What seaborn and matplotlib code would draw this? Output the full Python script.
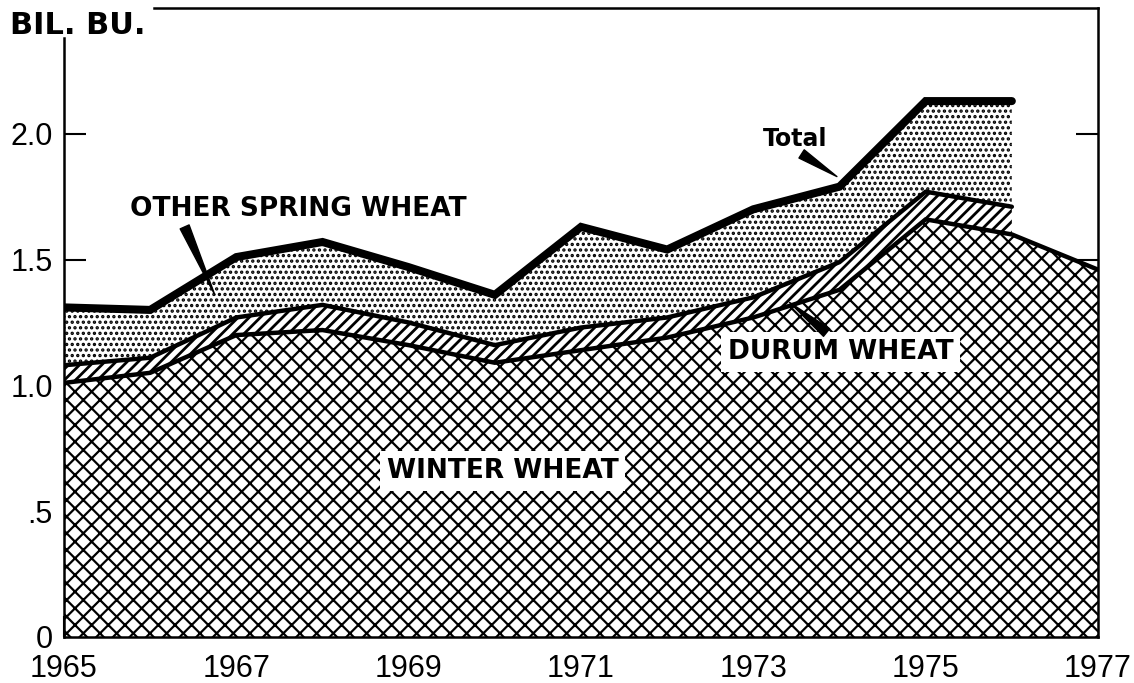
import numpy as np
import pandas as pd
import matplotlib
matplotlib.use("Agg")
import matplotlib.pyplot as plt
from matplotlib.ticker import MultipleLocator, FixedLocator
import seaborn as sns

# ---- data (billion bushels) ----
years = [1965, 1966, 1967, 1968, 1969, 1970, 1971, 1972, 1973, 1974, 1975, 1976, 1977]
winter_wheat = [1.01, 1.05, 1.20, 1.22, 1.16, 1.09, 1.14, 1.19, 1.27, 1.38, 1.66, 1.60, 1.46]
durum_wheat = [0.07, 0.06, 0.07, 0.10, 0.09, 0.07, 0.09, 0.08, 0.08, 0.11, 0.11, 0.11]
other_spring_wheat = [0.23, 0.19, 0.24, 0.25, 0.22, 0.20, 0.40, 0.27, 0.35, 0.30, 0.36, 0.42]

y_ticks = [0, 0.5, 1.0, 1.5, 2.0]
y_tick_labels = ["0", ".5", "1.0", "1.5", "2.0"]
x_ticks = [1965, 1967, 1969, 1971, 1973, 1975, 1977]
x_tick_labels = ["1965", "1967", "1969", "1971", "1973", "1975", "1977"]

sns.set_theme(style="white")
plt.rcParams["font.family"] = ["DejaVu Sans"]
plt.rcParams["text.color"] = "black"
plt.rcParams["hatch.color"] = "black"

yrs = np.array(years, dtype=float)
win = np.array(winter_wheat)
n = len(durum_wheat)
dur_top = win[:n] + np.array(durum_wheat)
total = dur_top + np.array(other_spring_wheat)

fig = plt.figure(figsize=(11.34, 6.83), dpi=100)
ax = fig.add_axes([64 / 1134, 46 / 683, (1098 - 64) / 1134, (637 - 8) / 683])


def hatched(x, lo, hi, pattern, hlw):
    with plt.rc_context({"hatch.linewidth": hlw}):
        coll = ax.fill_between(x, lo, hi, facecolor="white", edgecolor="black",
                               hatch=pattern, linewidth=0, zorder=1)
    if hasattr(coll, "set_hatch_linewidth"):
        coll.set_hatch_linewidth(hlw)
    return coll


hatched(yrs, 0, win, "xx", 1.6)
hatched(yrs[:n], win[:n], dur_top, "///", 2.0)
hatched(yrs[:n], dur_top, total, "...", 1.6)

sns.lineplot(x=yrs, y=win, color="black", linewidth=3.2, ax=ax, zorder=3)
sns.lineplot(x=yrs[:n], y=dur_top, color="black", linewidth=3.2, ax=ax, zorder=3)
sns.lineplot(x=yrs[:n], y=total, color="black", linewidth=5.8, ax=ax, zorder=4,
             solid_joinstyle="miter")

ax.set_xlim(1965, 1977)
ax.set_ylim(0, 2.5)
ax.set_xlabel("")
ax.set_ylabel("")

ax.xaxis.set_major_locator(FixedLocator(x_ticks))
ax.xaxis.set_minor_locator(MultipleLocator(1))
ax.set_xticks(x_ticks)
ax.set_xticklabels(x_tick_labels)
ax.set_yticks(y_ticks)
ax.set_yticklabels(y_tick_labels)

tick_font = ["Liberation Sans", "DejaVu Sans"]
for lab in ax.get_xticklabels() + ax.get_yticklabels():
    lab.set_family(tick_font)
    lab.set_fontsize(22)
    lab.set_color("black")

ax.tick_params(axis="x", which="both", direction="in", length=15, width=1.5,
               pad=12, colors="black", bottom=True, top=False)
ax.tick_params(axis="y", which="major", direction="in", length=16, width=1.5,
               pad=8, colors="black", left=True, right=True)

for side in ["left", "right", "top", "bottom"]:
    ax.spines[side].set_visible(True)
    ax.spines[side].set_color("black")
    ax.spines[side].set_linewidth(1.8)
ax.spines["left"].set_bounds(0, 2.38)
ax.spines["top"].set_bounds(1966.05, 1977)

fig.text(10 / 1134, 1 - 25 / 683, "BIL. BU.", fontsize=22, fontweight="bold",
         ha="left", va="center", color="black")

# ---- labels and pointers ----
ax.text(1967.72, 1.70, "OTHER SPRING WHEAT", fontsize=19, fontweight="bold",
        ha="center", va="center", zorder=6)
ax.text(1973.48, 1.98, "Total", fontsize=17, fontweight="bold",
        ha="center", va="center", zorder=6)
ax.text(1974.01, 1.133, "DURUM WHEAT", fontsize=19, fontweight="bold",
        ha="center", va="center", zorder=6,
        bbox=dict(boxstyle="square,pad=0.25", fc="white", ec="none"))
ax.text(1970.09, 0.66, "WINTER WHEAT", fontsize=19, fontweight="bold",
        ha="center", va="center", zorder=6,
        bbox=dict(boxstyle="square,pad=0.25", fc="white", ec="none"))

wedge = dict(arrowstyle="wedge,tail_width=0.35", fc="black", ec="black",
             shrinkA=0, shrinkB=0, mutation_scale=20)
ax.annotate("", xy=(1966.75, 1.36), xytext=(1966.40, 1.63), arrowprops=wedge, zorder=7)
ax.annotate("", xy=(1973.97, 1.83), xytext=(1973.56, 1.92), arrowprops=wedge, zorder=7)
ax.annotate("", xy=(1973.42, 1.33), xytext=(1973.85, 1.21), arrowprops=wedge, zorder=7)

fig.savefig("out.png", dpi=100)
